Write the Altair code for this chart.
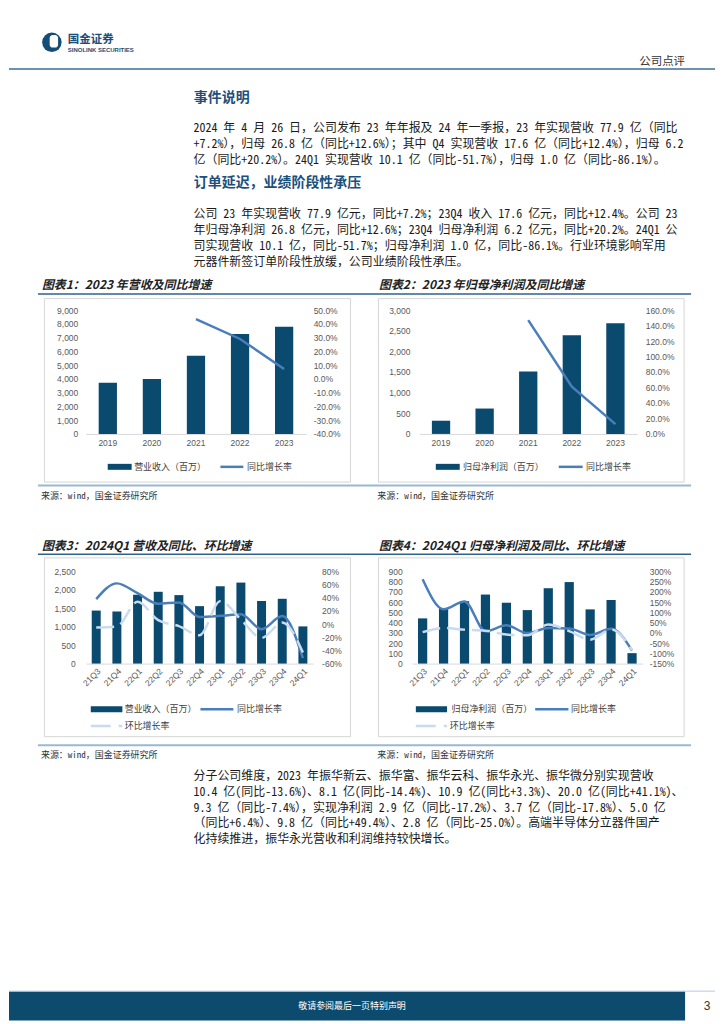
import altair as alt
import pandas as pd

# ---------------- data ----------------
years = ["2019", "2020", "2021", "2022", "2023"]
revenue = [3720, 3990, 5690, 7270, 7790]
revenue_yoy = [None, None, 0.435, 0.29, 0.072]
profit = [320, 615, 1510, 2390, 2680]
profit_yoy = [None, None, 1.47, 0.61, 0.126]

quarters = ["21Q3", "21Q4", "22Q1", "22Q2", "22Q3", "22Q4", "23Q1", "23Q2", "23Q3", "23Q4", "24Q1"]
q_revenue = [1440, 1415, 1870, 1950, 1860, 1560, 2100, 2200, 1700, 1760, 1010]
q_revenue_yoy = [0.38, 0.62, 0.47, 0.31, 0.33, 0.11, 0.126, 0.15, -0.076, 0.124, -0.517]
q_revenue_qoq = [-0.05, -0.035, 0.34, 0.06, -0.03, -0.17, 0.35, 0.07, -0.21, 0.025, -0.43]
q_profit = [442, 540, 610, 675, 595, 523, 737, 797, 530, 622, 102]
q_profit_yoy = [2.62, 1.16, 1.54, 0.08, 0.37, -0.01, 0.24, 0.22, -0.10, 0.202, -0.861]
q_profit_qoq = [0.04, 0.24, 0.16, 0.11, -0.08, -0.12, 0.41, 0.09, -0.33, 0.17, -0.84]

ticks_rev = [0, 1000, 2000, 3000, 4000, 5000, 6000, 7000, 8000, 9000]
ticks_rev_pct = [-0.4, -0.3, -0.2, -0.1, 0.0, 0.1, 0.2, 0.3, 0.4, 0.5]
ticks_np = [0, 500, 1000, 1500, 2000, 2500, 3000]
ticks_np_pct = [0.0, 0.2, 0.4, 0.6, 0.8, 1.0, 1.2, 1.4, 1.6]
ticks_qrev = [0, 500, 1000, 1500, 2000, 2500]
ticks_qrev_pct = [-0.6, -0.4, -0.2, 0.0, 0.2, 0.4, 0.6, 0.8]
ticks_qnp = [0, 100, 200, 300, 400, 500, 600, 700, 800, 900]
ticks_qnp_pct = [-1.5, -1.0, -0.5, 0.0, 0.5, 1.0, 1.5, 2.0, 2.5, 3.0]

header_cn = "国金证券"
header_en = "SINOLINK SECURITIES"
header_right = "公司点评"
heading1 = "事件说明"
para1 = [
    "2024 年 4 月 26 日，公司发布 23 年年报及 24 年一季报，23 年实现营收 77.9 亿（同比",
    "+7.2%），归母 26.8 亿（同比+12.6%）；其中 Q4 实现营收 17.6 亿（同比+12.4%），归母 6.2",
    "亿（同比+20.2%）。24Q1 实现营收 10.1 亿（同比-51.7%），归母 1.0 亿（同比-86.1%）。",
]
heading2 = "订单延迟，业绩阶段性承压"
para2 = [
    "公司 23 年实现营收 77.9 亿元，同比+7.2%；23Q4 收入 17.6 亿元，同比+12.4%。公司 23",
    "年归母净利润 26.8 亿元，同比+12.6%；23Q4 归母净利润 6.2 亿元，同比+20.2%。24Q1 公",
    "司实现营收 10.1 亿，同比-51.7%；归母净利润 1.0 亿，同比-86.1%。行业环境影响军用",
    "元器件新签订单阶段性放缓，公司业绩阶段性承压。",
]
para3 = [
    "分子公司维度，2023 年振华新云、振华富、振华云科、振华永光、振华微分别实现营收",
    "10.4 亿(同比-13.6%)、8.1 亿(同比-14.4%)、10.9 亿(同比+3.3%)、20.0 亿(同比+41.1%)、",
    "9.3 亿（同比-7.4%），实现净利润 2.9 亿（同比-17.2%）、3.7 亿（同比-17.8%）、5.0 亿",
    "（同比+6.4%）、9.8 亿（同比+49.4%）、2.8 亿（同比-25.0%）。高端半导体分立器件国产",
    "化持续推进，振华永光营收和利润维持较快增长。",
]
titles = [
    "图表1：2023 年营收及同比增速",
    "图表2：2023 年归母净利润及同比增速",
    "图表3：2024Q1 营收及同比、环比增速",
    "图表4：2024Q1 归母净利润及同比、环比增速",
]
source = "来源：wind，国金证券研究所"
lg_rev = "营业收入（百万）"
lg_np = "归母净利润（百万）"
lg_yoy = "同比增长率"
lg_qoq = "环比增长率"
footer = "敬请参阅最后一页特别声明"
page_no = "3"

# ---------------- style ----------------
W, H = 708, 1014
NAVY = "#0b4a6f"
BLUE = "#4a7ebb"
LIGHT = "#c9dcef"
HEAD = "#1d4f7c"
CJK = "Noto Sans CJK SC"
BODY = "'Noto Sans Mono CJK SC', 'Noto Sans CJK SC'"
LAT = "Liberation Sans"
GRAY = "#595959"
DUMMY = pd.DataFrame({"d": [0]})


def txt(s, x, y, size=12, color="#1a1a1a", weight="normal", align="left", font=CJK, style="normal"):
    return alt.Chart(DUMMY).mark_text(
        text=s, align=align, baseline="middle", fontSize=size, color=color,
        fontWeight=weight, font=font, fontStyle=style
    ).encode(x=alt.value(x), y=alt.value(y))


def hrule(x1, x2, y, color, w, dash=None):
    kw = dict(color=color, strokeWidth=w)
    if dash:
        kw["strokeDash"] = dash
    return alt.Chart(DUMMY).mark_rule(**kw).encode(x=alt.value(x1), x2=alt.value(x2), y=alt.value(y))


def rect(x1, x2, y1, y2, fill=None, stroke=None, radius=0):
    kw = {}
    if fill:
        kw["fill"] = fill
    else:
        kw["fill"] = "white"
        kw["fillOpacity"] = 0
    if stroke:
        kw["stroke"] = stroke
        kw["strokeWidth"] = 1
    if radius:
        kw["cornerRadius"] = radius
    return alt.Chart(DUMMY).mark_rect(**kw).encode(
        x=alt.value(x1), x2=alt.value(x2), y=alt.value(y1), y2=alt.value(y2))


def pct_expr(fmt):
    return "replace(format(datum.value, '" + fmt + "'), '\u2212', '-')"


def left_axis(vals, pad, x0):
    return alt.Axis(title=None, values=vals, format=",.0f", orient="left", domain=False, ticks=False,
                    grid=False, labelPadding=pad, labelFontSize=8.5, labelColor=GRAY, labelFont=LAT,
                    offset=-x0)


def right_axis(vals, fmt, pad, x1):
    return alt.Axis(title=None, values=vals, labelExpr=pct_expr(fmt), orient="right", domain=False,
                    ticks=False, grid=False, labelPadding=pad, labelFontSize=8.5, labelColor=GRAY,
                    labelFont=LAT, labelAlign="left", offset=x1 - W)


def x_axis(angle, pad, ybase):
    return alt.Axis(title=None, labelAngle=angle, ticks=False, domainColor="#d9d9d9", domainWidth=1,
                    labelPadding=pad, labelFontSize=8.5, labelColor=GRAY, labelFont=LAT, grid=False,
                    orient="bottom", offset=ybase - H)


def combo_chart(cats, bars, lines, bar_dom, bar_ticks, rate_dom, rate_ticks, rate_fmt,
                xr, yr, lpad, rpad, bpad, angle, xpad):
    """bars on the left axis, one or two rate lines on the right axis, scales placed by pixel range"""
    data = {"cat": cats, "v": bars}
    for k, (vals, _, _) in enumerate(lines):
        data["r%d" % k] = vals
    df = pd.DataFrame(data)
    xsc = alt.Scale(domain=cats, range=list(xr), paddingInner=bpad, paddingOuter=bpad / 2)
    bar = alt.Chart(df).mark_bar(color=NAVY).encode(
        x=alt.X("cat:N", scale=xsc, axis=x_axis(angle, xpad, yr[0]), sort=cats),
        y=alt.Y("v:Q", scale=alt.Scale(domain=bar_dom, range=list(yr), nice=False),
                axis=left_axis(bar_ticks, lpad, xr[0])),
    )
    layers = [bar]
    for k, (vals, color, dash) in enumerate(lines):
        kw = dict(color=color, strokeWidth=2.5)
        if len(cats) > 5:
            kw["interpolate"] = "monotone"
        if dash:
            kw["strokeDash"] = dash
        axis = right_axis(rate_ticks, rate_fmt, rpad, xr[1]) if k == 0 else None
        ln = alt.Chart(df).transform_filter("isValid(datum.r%d)" % k).mark_line(**kw).encode(
            x=alt.X("cat:N", sort=cats),
            y=alt.Y("r%d:Q" % k, scale=alt.Scale(domain=rate_dom, range=list(yr), nice=False, zero=False),
                    axis=axis),
        )
        layers.append(ln)
    return alt.layer(*layers).resolve_scale(y="independent")


# ---------------- page decorations ----------------
items = [
    alt.Chart(DUMMY).mark_circle(size=380, color="#134d78", opacity=1).encode(
        x=alt.value(43), y=alt.value(33)),
    rect(40.8, 49.2, 25.7, 38.3, fill="white", radius=3),
    txt(header_cn, 59, 31, size=11.5, color="#1a4d78", weight="bold"),
    txt(header_en, 59, 40.5, size=6, color="#1a4d78", weight="bold", font=LAT),
    txt(header_right, 678, 53, size=11.5, color="#333333", align="right", font=BODY),
    hrule(0, W, 59.7, "#3b6e96", 1.6),
    txt(heading1, 185.3, 89.3, size=14, color=HEAD, weight="bold"),
    txt(heading2, 185.3, 174, size=14, color=HEAD, weight="bold"),
]
for i, line in enumerate(para1):
    items.append(txt(line, 185, 119 + 16 * i, font=BODY))
for i, line in enumerate(para2):
    items.append(txt(line, 185, 205 + 16 * i, font=BODY))

# chart frames, titles, sources
for ty, uy, sy, sty, by1, by2 in [(276, 285.3, 477.3, 487.7, 290, 474),
                                  (538, 546.3, 738, 747.7, 550, 729.3)]:
    items.append(hrule(29, 684, uy, "#2f628c", 1.5))
    items.append(hrule(29, 684, sy, "#9ab8d1", 2))
    items.append(txt(source, 32, sty, size=9, color="#333333", font=BODY))
    items.append(txt(source, 369.3, sty, size=9, color="#333333", font=BODY))
    items.append(rect(35.5, 342.5, by1, by2, stroke="#d6d6d6"))
    items.append(rect(370.5, 677, by1, by2, stroke="#d6d6d6"))
for k, (tx, ty) in enumerate([(33, 276), (371, 276), (33, 538), (371, 538)]):
    items.append(txt(titles[k], tx, ty, size=12, color="#222222", weight="bold", style="italic"))


# legends
def legend(sw1, sw2, t1, label, l1, l2, t2, ly, qoq_y=None, t3=None):
    out = [
        rect(sw1, sw2, ly - 3, ly + 3, fill=NAVY),
        txt(label, t1, ly, size=9, color="#404040"),
        hrule(l1, l2, ly, BLUE, 2.5),
        txt(lg_yoy, t2, ly, size=9, color="#404040"),
    ]
    if qoq_y is not None:
        out.append(hrule(sw1, sw2, qoq_y, LIGHT, 2.5, dash=[20, 8]))
        out.append(txt(lg_qoq, t3, qoq_y, size=9, color="#404040"))
    return out


items += legend(99, 123, 125.5, lg_rev, 212, 235, 238.7, 458.7)
items += legend(428, 452, 455.3, lg_np, 551.3, 575.3, 578.7, 458.7)
items += legend(82, 113.7, 116, lg_rev, 192, 225, 228.7, 701.7, 718.5, 116)
items += legend(408, 439.3, 443.7, lg_np, 527.7, 561, 563.7, 701.7, 718.5, 442)

for i, line in enumerate(para3):
    items.append(txt(line, 185, 769 + 15.7 * i, font=BODY))

items += [
    hrule(0, W, 984.5, "#b7cadb", 1),
    rect(0, 678, 985, 1014, fill="#0c4a6e"),
    txt(footer, 344, 999.5, size=9, color="white", align="center", font=BODY),
    txt(page_no, 700, 999.5, size=12, color="#333333", align="center", font=LAT),
]

# ---------------- charts ----------------
c1 = combo_chart(years, revenue, [(revenue_yoy, BLUE, None)], [0, 9000], ticks_rev,
                 [-0.4, 0.5], ticks_rev_pct, ".1%", (77, 298), (425.7, 301.5), 8, 7, 0.586, 0, 5)
c2 = combo_chart(years, profit, [(profit_yoy, BLUE, None)], [0, 3000], ticks_np,
                 [0, 1.6], ticks_np_pct, ".1%", (411.4, 630), (425.7, 301.5), 9.4, 8, 0.58, 0, 5)
c3 = combo_chart(quarters, q_revenue, [(q_revenue_yoy, BLUE, None), (q_revenue_qoq, LIGHT, [18, 7])],
                 [0, 2500], ticks_qrev, [-0.6, 0.8], ticks_qrev_pct, ".0%",
                 (77.1, 305.1), (656, 563.7), 10.8, 8.4, 0.566, -45, 3)
c4 = combo_chart(quarters, q_profit, [(q_profit_yoy, BLUE, None), (q_profit_qoq, LIGHT, [18, 7])],
                 [0, 900], ticks_qnp, [-1.5, 3.0], ticks_qnp_pct, ".0%",
                 (404.3, 635.3), (656, 563.7), 10, 6.7, 0.56, -45, 3)

chart = alt.layer(*items, c1, c2, c3, c4).resolve_scale(
    x="independent", y="independent").properties(
    width=W, height=H, padding=0).configure_view(stroke="transparent")

chart.save("out.html", embed_options={"renderer": "svg", "actions": False})
